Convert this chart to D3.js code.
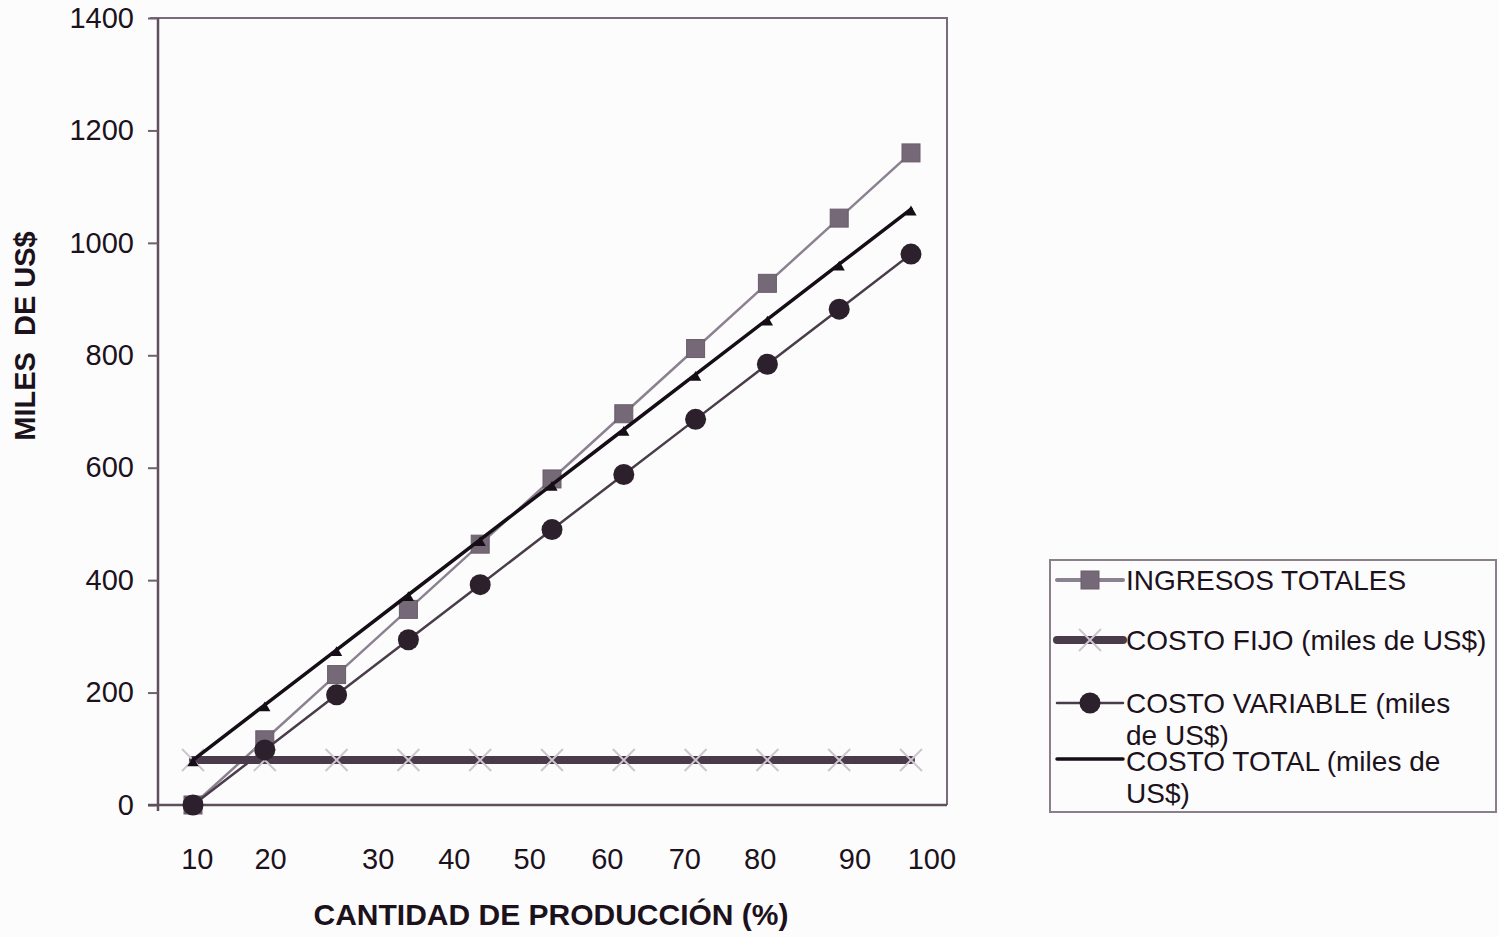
<!DOCTYPE html>
<html>
<head>
<meta charset="utf-8">
<script src="https://cdn.jsdelivr.net/npm/d3@7"></script>
<style>
  body { margin: 0; background: #fdfcfd; }
  svg { font-family: "Liberation Sans", Arial, sans-serif; }
</style>
</head>
<body>
<svg id="chart" width="1499" height="937"></svg>
<script>
// production levels (x categories of the data points)
var niveles = [0, 10, 20, 30, 40, 50, 60, 70, 80, 90, 100];

var ingresosTotales = [0, 116, 232, 348, 464, 580, 696, 812, 928, 1044, 1160];
var costoFijo       = [80, 80, 80, 80, 80, 80, 80, 80, 80, 80, 80];
var costoVariable   = [0, 98, 196, 294, 392, 490, 588, 686, 784, 882, 980];
var costoTotal      = [80, 178, 276, 374, 472, 570, 668, 766, 864, 962, 1060];

// x tick labels and where they sit (in production-level units, as printed)
var etiquetasX = ["10", "20", "30", "40", "50", "60", "70", "80", "90", "100"];
var posEtiquetasX = [0.6, 10.8, 25.8, 36.4, 46.9, 57.7, 68.5, 79.0, 92.2, 102.9];

var ticksY = [0, 200, 400, 600, 800, 1000, 1200, 1400];

var legLines = [["INGRESOS TOTALES"], ["COSTO FIJO (miles de US$)"], ["COSTO VARIABLE (miles", "de US$)"], ["COSTO TOTAL (miles de", "US$)"]];

var svg = d3.select("#chart");

var plot = {left: 158, right: 947, top: 18, bottom: 805};
var axisColor = "#5e4f5e";
var textColor = "#1c121c";

var x = d3.scaleLinear().domain([0, 100]).range([193, 911]);
var y = d3.scaleLinear().domain([0, 1400]).range([plot.bottom, plot.top]);

// frame: top and right borders
svg.append("path")
  .attr("d", "M" + (plot.left - 8) + "," + plot.top + "H" + plot.right + "V" + plot.bottom)
  .attr("fill", "none")
  .attr("stroke", "#7a6b7a")
  .attr("stroke-width", 2);

// y axis
var yAxis = svg.append("g")
  .attr("transform", "translate(" + plot.left + ",0)")
  .call(d3.axisLeft(y).tickValues(ticksY).tickSize(10).tickPadding(14).tickFormat(d3.format("d")));
yAxis.select(".domain").attr("stroke", axisColor).attr("stroke-width", 2.5)
  .attr("d", "M0," + plot.top + "V" + (plot.bottom + 6));
yAxis.selectAll(".tick line").attr("stroke", "#6e616e").attr("stroke-width", 2);
yAxis.selectAll(".tick text")
  .attr("font-size", 29)
  .attr("fill", textColor)
  .attr("font-family", "Liberation Sans, Arial, sans-serif");

// x axis line
svg.append("line")
  .attr("x1", plot.left - 10).attr("x2", plot.right)
  .attr("y1", plot.bottom).attr("y2", plot.bottom)
  .attr("stroke", axisColor)
  .attr("stroke-width", 2.5);

svg.append("g")
  .selectAll("text")
  .data(etiquetasX)
  .enter().append("text")
  .attr("x", function(d, i) { return x(posEtiquetasX[i]); })
  .attr("y", 869)
  .attr("text-anchor", "middle")
  .attr("font-size", 29)
  .attr("fill", textColor)
  .text(function(d) { return d; });

// axis titles
svg.append("text")
  .attr("x", 551).attr("y", 925)
  .attr("text-anchor", "middle")
  .attr("font-size", 30)
  .attr("font-weight", "bold")
  .attr("fill", textColor)
  .text("CANTIDAD DE PRODUCCIÓN (%)");

svg.append("text")
  .attr("transform", "translate(35,336) rotate(-90)")
  .attr("text-anchor", "middle")
  .attr("font-size", 29)
  .attr("font-weight", "bold")
  .attr("fill", textColor)
  .style("white-space", "pre")
  .text("MILES  DE US$");

var line = d3.line()
  .x(function(d, i) { return x(niveles[i]); })
  .y(function(d) { return y(d); });

var series = [
  {valores: ingresosTotales, color: "#8c8190", ancho: 2.5, marca: "square", relleno: "#766977"},
  {valores: costoFijo, color: "#4a3b4a", ancho: 8, marca: "x", relleno: "#cdc6cd"},
  {valores: costoVariable, color: "#4a3d4a", ancho: 2.5, marca: "circle", relleno: "#2c202c"},
  {valores: costoTotal, color: "#160e16", ancho: 3.5, marca: "triangle", relleno: "#160e16"}
];

function drawMarker(g, tipo, cx, cy, relleno) {
  if (tipo == "square") {
    g.append("rect")
      .attr("x", cx - 9).attr("y", cy - 9)
      .attr("width", 18).attr("height", 18)
      .attr("fill", relleno)
      .attr("stroke", "#6a5d6a");
  } else if (tipo == "circle") {
    g.append("circle")
      .attr("cx", cx).attr("cy", cy).attr("r", 10.5)
      .attr("fill", relleno);
  } else if (tipo == "x") {
    g.append("path")
      .attr("d", "M" + (cx - 11) + "," + (cy - 11) + "L" + (cx + 11) + "," + (cy + 11) +
                 "M" + (cx - 11) + "," + (cy + 11) + "L" + (cx + 11) + "," + (cy - 11))
      .attr("stroke", relleno)
      .attr("stroke-width", 2);
  } else if (tipo == "triangle") {
    g.append("path")
      .attr("d", d3.symbol().type(d3.symbolTriangle).size(55)())
      .attr("transform", "translate(" + cx + "," + (cy + 3) + ")")
      .attr("fill", relleno);
  }
}

series.forEach(function(s) {
  var g = svg.append("g");
  g.append("path")
    .datum(s.valores)
    .attr("d", line)
    .attr("fill", "none")
    .attr("stroke", s.color)
    .attr("stroke-width", s.ancho)
    .attr("stroke-linecap", "round");
  s.valores.forEach(function(v, i) {
    drawMarker(g, s.marca, x(niveles[i]), y(v), s.relleno);
  });
});

// legend
var leg = svg.append("g");
leg.append("rect")
  .attr("x", 1050).attr("y", 560)
  .attr("width", 446).attr("height", 252)
  .attr("fill", "#fdfcfd")
  .attr("stroke", "#8a7f8a")
  .attr("stroke-width", 2);

var legY = [580, 640, 703, 759];
var legBase = [590, 650, 713, 771];
series.forEach(function(s, i) {
  var yy = legY[i];
  leg.append("line")
    .attr("x1", 1057).attr("x2", 1123)
    .attr("y1", yy).attr("y2", yy)
    .attr("stroke", s.color)
    .attr("stroke-width", s.marca == "square" ? 4 : s.ancho)
    .attr("stroke-linecap", "round");
  if (s.marca != "triangle") drawMarker(leg, s.marca, 1090, yy, s.relleno);
});

legLines.forEach(function(l, i) {
  var t = leg.append("text")
    .attr("x", 1126)
    .attr("y", legBase[i])
    .attr("font-size", 28)
    .attr("fill", textColor);
  l.forEach(function(s, k) {
    t.append("tspan")
      .attr("x", 1126)
      .attr("dy", k == 0 ? 0 : 32)
      .text(s);
  });
});
</script>
</body>
</html>
